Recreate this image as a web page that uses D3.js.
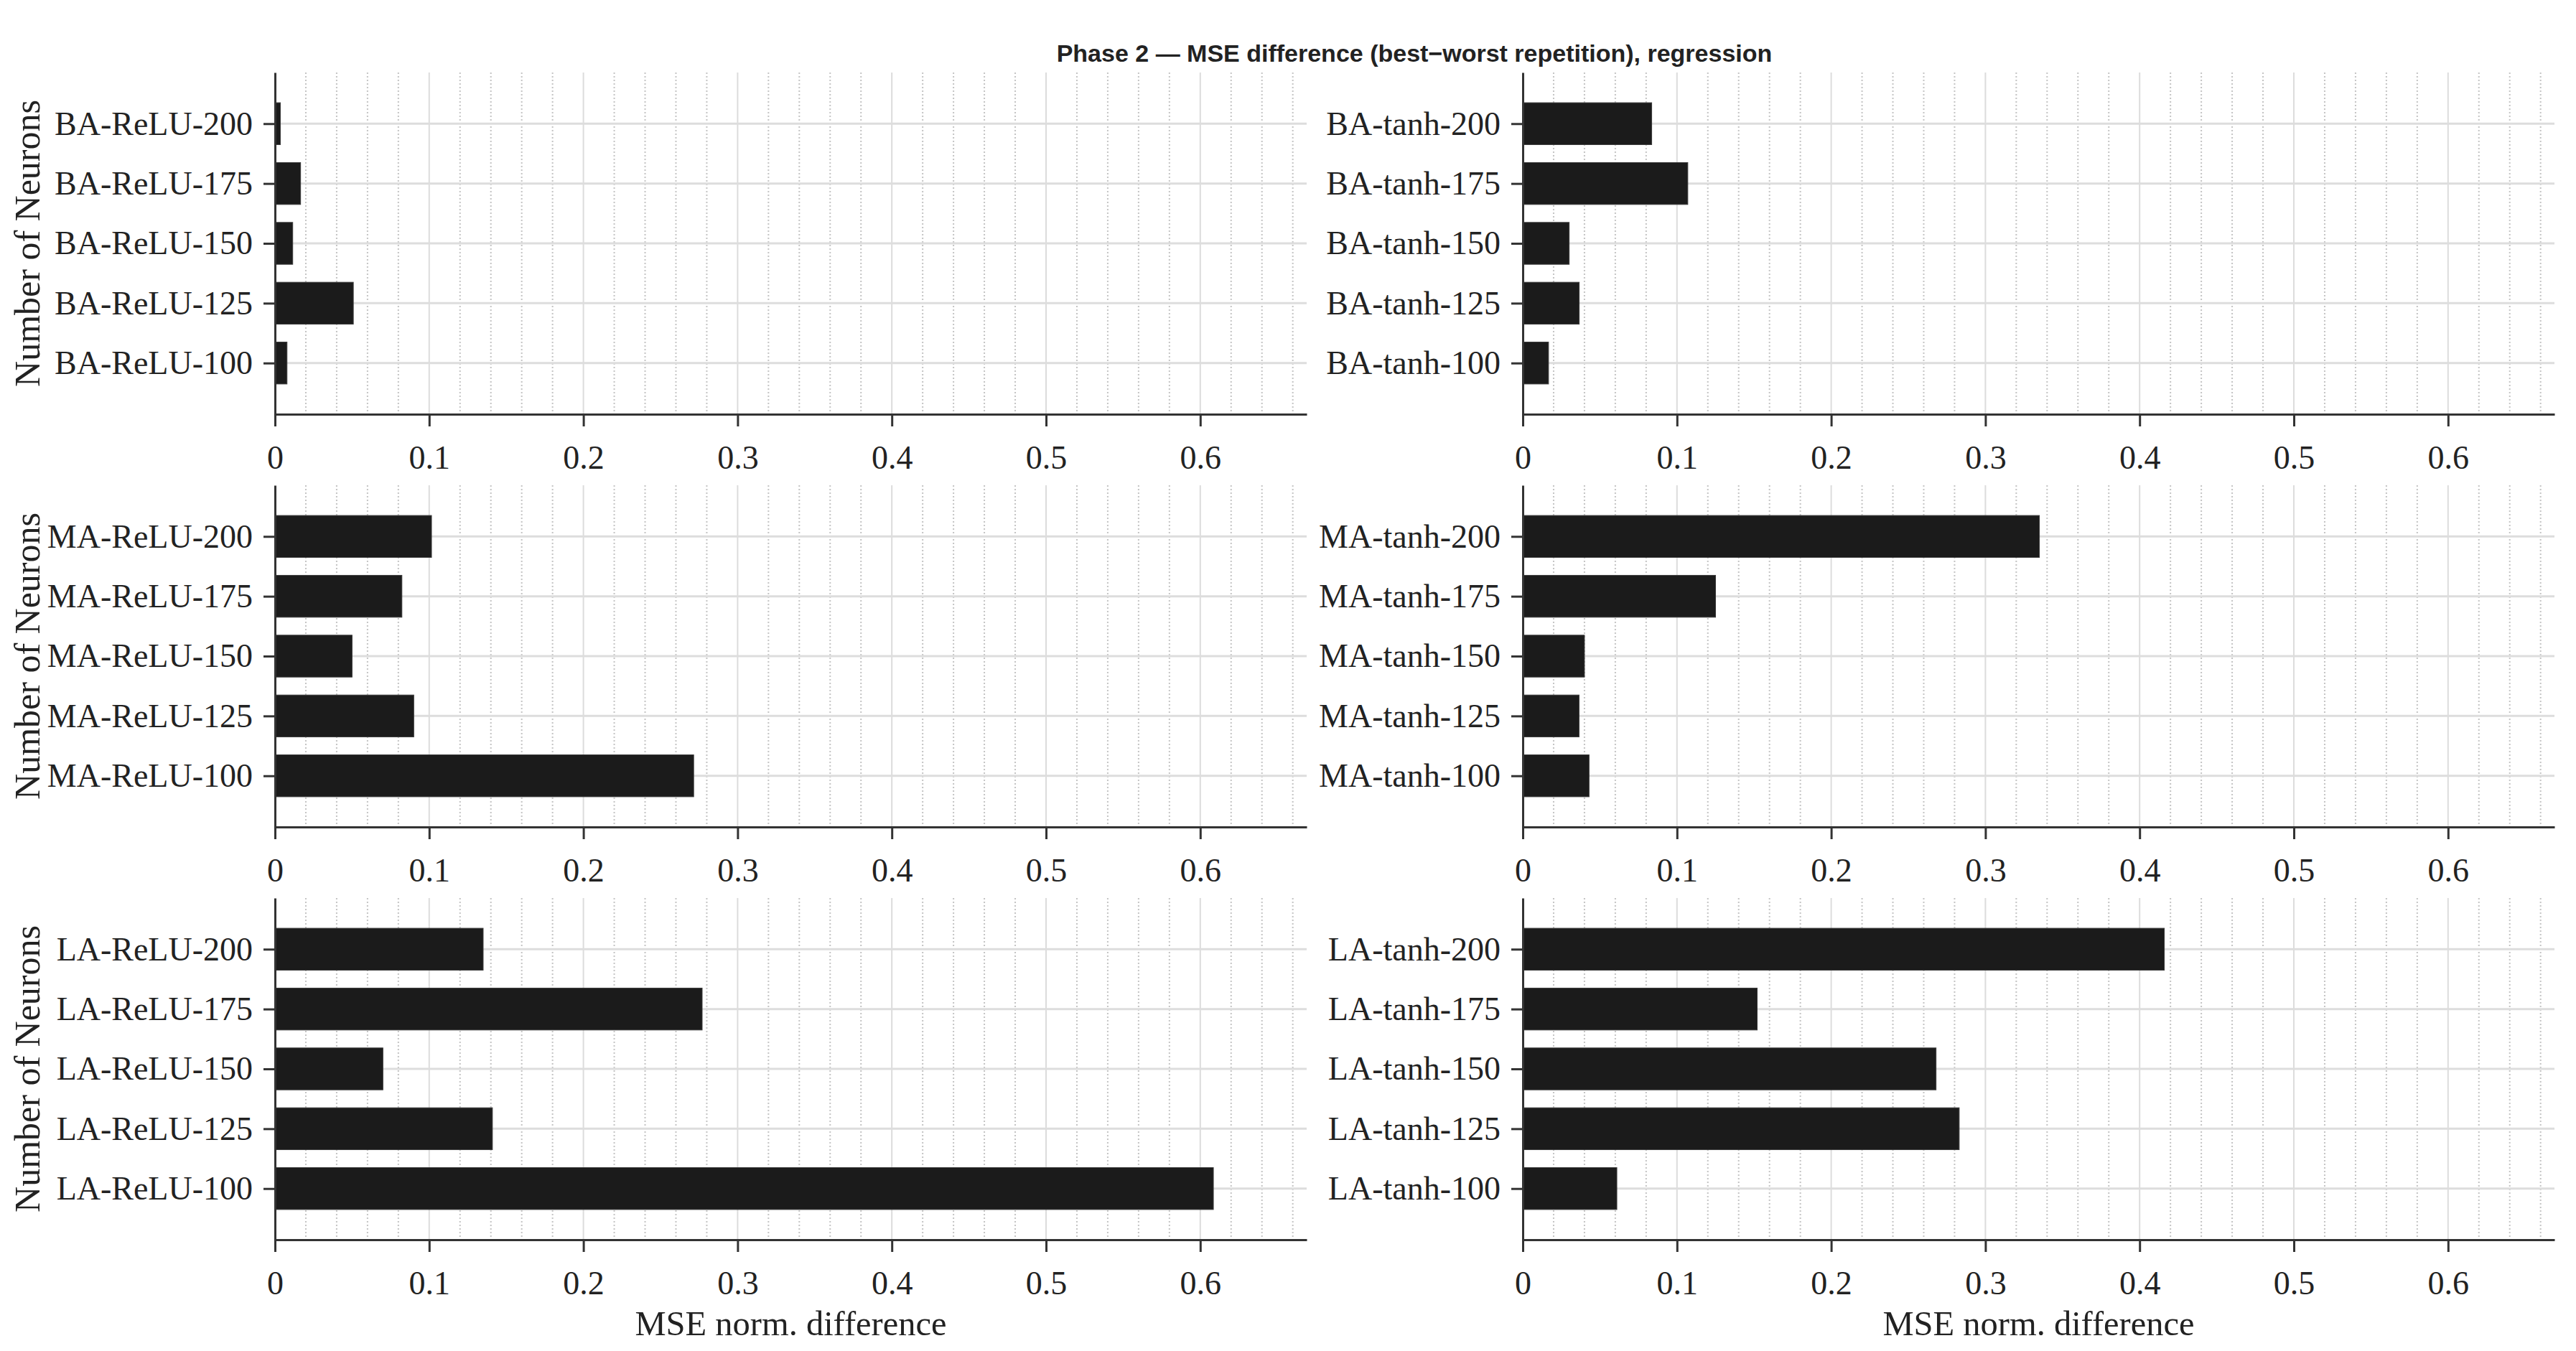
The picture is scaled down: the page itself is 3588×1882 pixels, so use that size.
<!DOCTYPE html>
<html>
<head>
<meta charset="utf-8">
<script src="https://cdn.jsdelivr.net/npm/d3@7"></script>
<style>
  html, body { margin: 0; padding: 0; background: #fff; }
  svg { display: block; }
</style>
</head>
<body>
<div id="chart"></div>
<script>
// categories, top to bottom as drawn
var neurons = ["200", "175", "150", "125", "100"];
var groups = ["BA", "MA", "LA"];
var activations = ["ReLU", "tanh"];
var xTicks = [0, 0.1, 0.2, 0.3, 0.4, 0.5, 0.6];

// MSE norm. difference, same order as neurons
var baRelu = [0.0035, 0.0166, 0.0115, 0.0508, 0.0078];
var baTanh = [0.0836, 0.1070, 0.0301, 0.0366, 0.0167];
var maRelu = [0.1015, 0.0823, 0.0500, 0.0900, 0.2715];
var maTanh = [0.3350, 0.1250, 0.0400, 0.0365, 0.0430];
var laRelu = [0.1350, 0.2770, 0.0700, 0.1410, 0.6085];
var laTanh = [0.4160, 0.1520, 0.2680, 0.2830, 0.0610];

var panelValues = [[baRelu, baTanh], [maRelu, maTanh], [laRelu, laTanh]];
var xMax = 0.669;

var width = 3588, height = 1882;
var colX = [383, 2121];
var rowY = [101, 676, 1251];
var pw = 1437, ph = 476;

var serif = "'Liberation Serif', 'Times New Roman', serif";
var ink = "#222";

var svg = d3.select("#chart")
    .append("svg")
    .attr("width", width)
    .attr("height", height)
    .attr("viewBox", "0 0 " + width + " " + height);

svg.append("text")
    .attr("x", 1970)
    .attr("y", 86)
    .attr("text-anchor", "middle")
    .attr("font-family", "'Liberation Sans', Arial, sans-serif")
    .attr("font-weight", "bold")
    .attr("font-size", 34)
    .attr("fill", ink)
    .text("Phase 2 \u2014 MSE difference (best\u2212worst repetition), regression");

var x = d3.scaleLinear().domain([0, xMax]).range([0, pw]);
// index 0 = top category (200); bottom category has largest index
var y = d3.scaleLinear().domain([-0.855, 4.855]).range([0, ph]);
var barH = y(0.7) - y(0);

var minorTicks = d3.range(1, 34).map(function(i) { return i * 0.02; })
    .filter(function(v) { return Math.abs(v * 10 - Math.round(v * 10)) > 1e-6 && v <= xMax; });

groups.forEach(function(grp, r) {
    activations.forEach(function(act, c) {
        var vals = panelValues[r][c];
        var data = neurons.map(function(n, i) {
            return { label: grp + "-" + act + "-" + n, idx: i, value: vals[i] };
        });

        var g = svg.append("g")
            .attr("transform", "translate(" + colX[c] + "," + rowY[r] + ")");

        // minor dotted verticals
        g.selectAll(".minor")
            .data(minorTicks)
            .enter().append("line")
            .attr("x1", function(d) { return x(d); })
            .attr("x2", function(d) { return x(d); })
            .attr("y1", 0).attr("y2", ph)
            .attr("stroke", "#c4c4c4")
            .attr("stroke-width", 2)
            .attr("stroke-dasharray", "2,3");

        // major verticals
        g.selectAll(".major")
            .data(xTicks.slice(1))
            .enter().append("line")
            .attr("x1", function(d) { return x(d); })
            .attr("x2", function(d) { return x(d); })
            .attr("y1", 0).attr("y2", ph)
            .attr("stroke", "#dcdcdc")
            .attr("stroke-width", 2);

        // horizontal grid at categories
        g.selectAll(".hgrid")
            .data(data)
            .enter().append("line")
            .attr("x1", 0).attr("x2", pw)
            .attr("y1", function(d) { return y(d.idx); })
            .attr("y2", function(d) { return y(d.idx); })
            .attr("stroke", "#dddddd")
            .attr("stroke-width", 3);

        g.selectAll(".bar")
            .data(data)
            .enter().append("rect")
            .attr("class", "bar")
            .attr("x", x(0))
            .attr("y", function(d) { return y(d.idx) - barH / 2; })
            .attr("width", function(d) { return x(d.value) - x(0); })
            .attr("height", barH)
            .attr("fill", "#1b1b1b")
            .attr("stroke", "#3a3a3a")
            .attr("stroke-width", 1);

        var xa = g.append("g")
            .attr("transform", "translate(0," + ph + ")")
            .call(d3.axisBottom(x)
                .tickValues(xTicks)
                .tickSize(17)
                .tickSizeOuter(0)
                .tickPadding(26)
                .tickFormat(function(d) { return d === 0 ? "0" : d3.format(".1f")(d); }));

        var ya = g.append("g")
            .call(d3.axisLeft(y)
                .tickValues(data.map(function(d) { return d.idx; }))
                .tickSize(16)
                .tickSizeOuter(0)
                .tickPadding(15)
                .tickFormat(function(d) { return data[d].label; }));

        [xa, ya].forEach(function(a) {
            a.select(".domain").attr("stroke", "#333").attr("stroke-width", 3);
            a.selectAll(".tick line").attr("stroke", "#333").attr("stroke-width", 3);
            a.selectAll(".tick text")
                .attr("font-family", serif)
                .attr("font-size", 46)
                .attr("fill", ink);
        });

        if (c === 0) {
            svg.append("text")
                .attr("transform", "translate(55," + (rowY[r] + ph / 2) + ") rotate(-90)")
                .attr("text-anchor", "middle")
                .attr("font-family", serif)
                .attr("font-size", 50)
                .attr("fill", ink)
                .text("Number of Neurons");
        }
        if (r === groups.length - 1) {
            svg.append("text")
                .attr("x", colX[c] + pw / 2)
                .attr("y", 1860)
                .attr("text-anchor", "middle")
                .attr("font-family", serif)
                .attr("font-size", 48.5)
                .attr("fill", ink)
                .text("MSE norm. difference");
        }
    });
});
</script>
</body>
</html>
